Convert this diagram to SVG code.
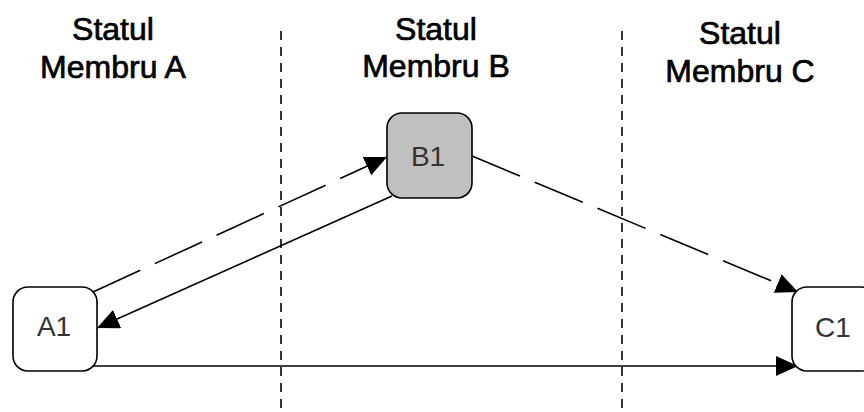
<svg xmlns="http://www.w3.org/2000/svg" width="864" height="412" viewBox="0 0 864 412">
<style>
.head{font-family:"Liberation Sans",Arial,sans-serif;font-size:32px;fill:#000;stroke:#000;stroke-width:0.7;text-anchor:middle}
.lbl{font-family:"Liberation Sans",Arial,sans-serif;font-size:28px;fill:#333;text-anchor:middle}
.box{stroke:#000;stroke-width:1.6}
.sep{stroke:#000;stroke-width:1.6;stroke-dasharray:9 7;fill:none}
.conn{stroke:#000;stroke-width:1.6;fill:none}
.dash{stroke-dasharray:52 16}
</style>
<defs>
<marker id="arr" markerUnits="userSpaceOnUse" markerWidth="24" markerHeight="22" refX="22" refY="10" orient="auto">
<path d="M0,0 L22,10 L0,20 z" fill="#000"/>
</marker>
</defs>
<rect width="864" height="412" fill="#fff"/>
<g id="separators">
<line class="sep" x1="281" y1="31" x2="281" y2="412"/>
<line class="sep" x1="622" y1="31" x2="622" y2="412"/>
</g>
<g id="headings">
<text class="head" x="113" y="40">Statul</text>
<text class="head" x="113" y="78">Membru A</text>
<text class="head" x="436" y="40">Statul</text>
<text class="head" x="436" y="77">Membru B</text>
<text class="head" x="740" y="44">Statul</text>
<text class="head" x="740" y="82">Membru C</text>
</g>
<g id="connectors">
<path class="conn dash" d="M93,292 L387,157" marker-end="url(#arr)"/>
<path class="conn" d="M392,196 L97,328" marker-end="url(#arr)"/>
<path class="conn dash" d="M472,156 L798,292" marker-end="url(#arr)"/>
<path class="conn" d="M93,366 L798,366" marker-end="url(#arr)"/>
</g>
<g id="A1">
<rect class="box" x="13" y="287" width="84" height="84" rx="15" fill="#fff"/>
<text class="lbl" x="54" y="336">A1</text>
</g>
<g id="B1">
<rect class="box" x="387" y="113" width="85" height="85" rx="15" fill="#c0c0c0"/>
<text class="lbl" x="428" y="166">B1</text>
</g>
<g id="C1">
<rect class="box" x="792" y="287" width="84" height="84" rx="15" fill="#fff"/>
<text class="lbl" x="833" y="337">C1</text>
</g>
</svg>
